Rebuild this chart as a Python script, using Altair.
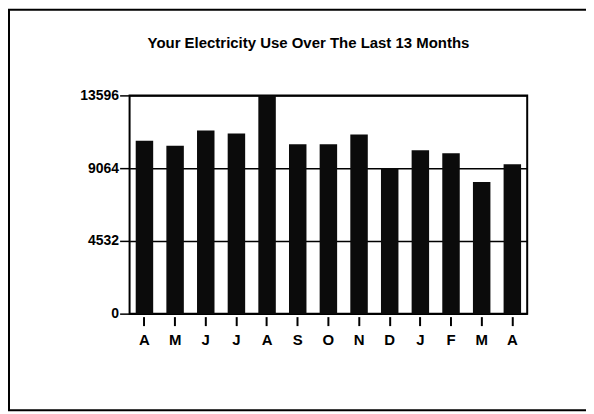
import altair as alt
import pandas as pd

months = ["A", "M", "J", "J", "A", "S", "O", "N", "D", "J", "F", "M", "A"]
usage = [10772, 10463, 11414, 11229, 13596, 10549, 10549, 11167, 9050, 10178, 9993, 8201, 9313]
y_ticks = [0, 4532, 9064, 13596]
title_text = "Your Electricity Use Over The Last 13 Months"

df = pd.DataFrame({
    "idx": list(range(len(months))),
    "month": months,
    "usage": usage,
})

label_expr = "[" + ",".join('"%s"' % m for m in months) + "][datum.value]"

bars = alt.Chart(df).mark_bar(color="#0b0b0b").encode(
    x=alt.X("idx:O",
            scale=alt.Scale(paddingInner=0.43, paddingOuter=0.2),
            axis=alt.Axis(title=None, labelExpr=label_expr, labelAngle=0,
                          domain=False, ticks=True, tickSize=9, offset=3,
                          tickColor="black", tickWidth=2,
                          labelFont="Liberation Sans", labelFontWeight="bold",
                          labelFontSize=15, labelColor="black", labelPadding=7,
                          grid=False)),
    y=alt.Y("usage:Q",
            scale=alt.Scale(domain=[0, 13596], nice=False, zero=True),
            axis=alt.Axis(title=None, values=y_ticks, format="d", domain=False,
                          tickSize=10, tickColor="black", tickWidth=1.5,
                          labelFont="Liberation Sans", labelFontWeight="bold",
                          labelFontSize=14, labelColor="black", labelPadding=1,
                          grid=True, gridColor="black", gridWidth=1.5,
                          gridOpacity=1)),
)

frame = alt.Chart(pd.DataFrame({"a": [0]})).mark_rect(
    filled=False, stroke="black", strokeWidth=2
).encode(
    x=alt.value(-121), x2=alt.value(459),
    y=alt.value(-86), y2=alt.value(316),
)

chart = alt.layer(bars, frame).properties(
    width=399,
    height=219,
    title=alt.TitleParams(title_text, font="Liberation Sans",
                          fontWeight="bold", fontSize=15, color="black",
                          anchor="middle", frame="group", dx=-20, offset=-54,
                          baseline="alphabetic"),
    autosize=alt.AutoSizeParams(type="none"),
    padding={"left": 122, "top": 87, "right": 59, "bottom": 98},
).configure(
    background="white"
).configure_view(
    stroke="black", strokeWidth=2
)

chart.save("out.html", embed_options={"renderer": "svg", "actions": False})
